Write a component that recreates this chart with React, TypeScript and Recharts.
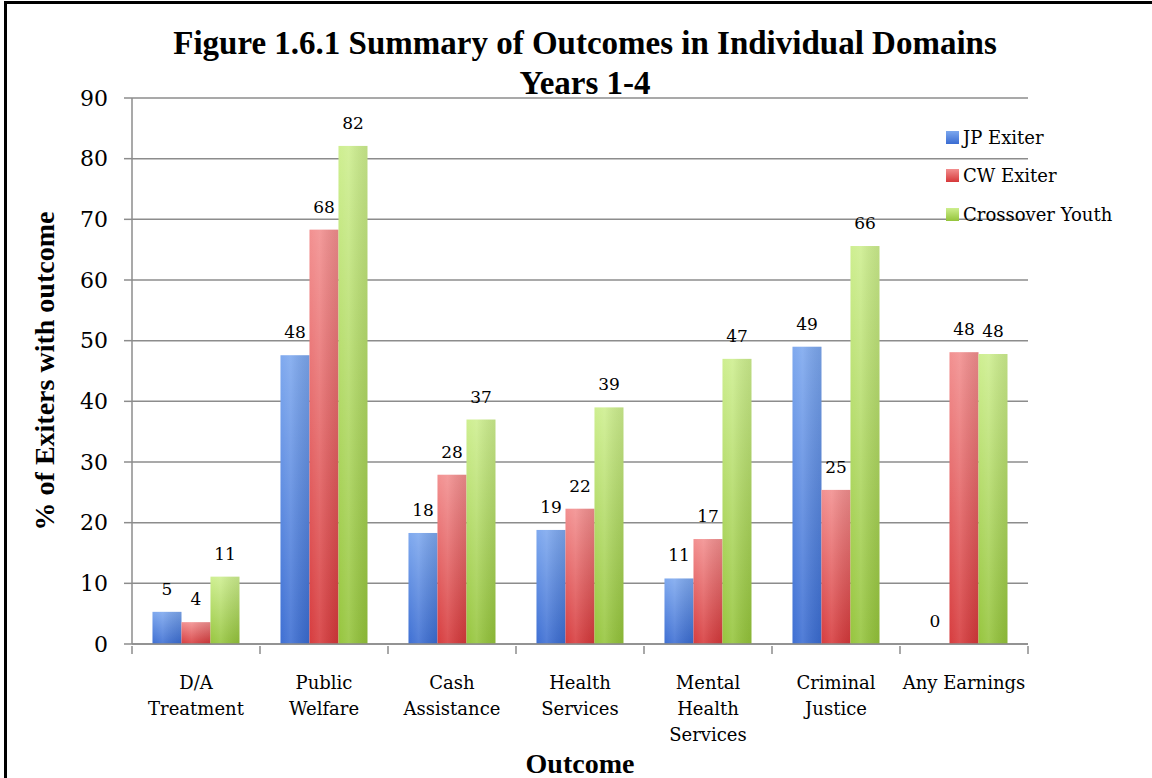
import React from 'react';
import { BarChart, Bar, XAxis, YAxis, CartesianGrid, LabelList } from 'recharts';

const categories = [
  'D/A\nTreatment',
  'Public\nWelfare',
  'Cash\nAssistance',
  'Health\nServices',
  'Mental\nHealth\nServices',
  'Criminal\nJustice',
  'Any Earnings',
];
const jpExiter = [5.3, 47.6, 18.3, 18.8, 10.8, 49.0, 0];
const cwExiter = [3.6, 68.3, 27.9, 22.3, 17.3, 25.4, 48.1];
const crossoverYouth = [11.1, 82.1, 37.0, 39.0, 47.0, 65.6, 47.8];
const seriesNames = ['JP Exiter', 'CW Exiter', 'Crossover Youth'];
const yTicks = [0, 10, 20, 30, 40, 50, 60, 70, 80, 90];

const data = categories.map((c, i) => ({
  outcome: c,
  jp: jpExiter[i],
  cw: cwExiter[i],
  cy: crossoverYouth[i],
}));

const W = 1152;
const H = 778;
const M = { top: 98, right: 124, bottom: 0, left: 0 };
const Y_AXIS_W = 132;
const X_AXIS_H = 134;
const BAND = (W - M.left - M.right - Y_AXIS_W) / categories.length;

const GRID = '#8c8c8c';
const SERIF = '"DejaVu Serif", serif';
const BOLD = '"Liberation Serif", serif';

const palette = [
  { id: 'gBlue', top: '#7ca7ee', bottom: '#3a6cd2' },
  { id: 'gRed', top: '#f28e8e', bottom: '#d6383a' },
  { id: 'gGreen', top: '#cdee8e', bottom: '#94c43a' },
];

function ShadedBar(props: any) {
  const { x, y, width, height, gid } = props;
  if (!height || height <= 0) return null;
  return (
    <g>
      <rect x={x} y={y} width={width} height={height} fill={`url(#${gid})`} />
      <rect x={x} y={y} width={width} height={height} fill="url(#gSide)" />
    </g>
  );
}

function OutcomeTick(props: any) {
  const { x, y, payload, index } = props;
  const lines = String(payload.value).split('\n');
  const half = BAND / 2;
  return (
    <g>
      <line x1={x - half} x2={x - half} y1={y} y2={y + 8} stroke={GRID} strokeWidth={1.5} />
      {index === categories.length - 1 && (
        <line x1={x + half} x2={x + half} y1={y} y2={y + 8} stroke={GRID} strokeWidth={1.5} />
      )}
      <text x={x} y={y + 43} textAnchor="middle" fill="#000" fontSize={18} fontFamily={SERIF}>
        {lines.map((l, i) => (
          <tspan key={i} x={x} dy={i === 0 ? 0 : 26}>
            {l}
          </tspan>
        ))}
      </text>
    </g>
  );
}

const round = (v: any) => Math.round(Number(v));

export default function App() {
  const keys = ['jp', 'cw', 'cy'];
  return (
    <div style={{ position: 'absolute', left: 0, top: 0, width: W, height: H, background: '#fff' }}>
      <div
        style={{
          position: 'absolute',
          left: 4,
          top: 1,
          width: W - 4,
          height: H - 1,
          borderLeft: '3px solid #000',
          borderTop: '3px solid #000',
          boxSizing: 'border-box',
        }}
      />
      <BarChart width={W} height={H} data={data} margin={M} barGap={0} barCategoryGap="16%">
        <defs>
          {palette.map((p) => (
            <linearGradient key={p.id} id={p.id} x1="0" y1="0" x2="0" y2="1">
              <stop offset="0%" stopColor={p.top} />
              <stop offset="100%" stopColor={p.bottom} />
            </linearGradient>
          ))}
          <linearGradient id="gSide" x1="0" y1="0" x2="1" y2="0">
            <stop offset="0%" stopColor="#ffffff" stopOpacity={0.02} />
            <stop offset="35%" stopColor="#ffffff" stopOpacity={0.12} />
            <stop offset="100%" stopColor="#000000" stopOpacity={0.08} />
          </linearGradient>
        </defs>
        <CartesianGrid vertical={false} stroke={GRID} strokeWidth={1.5} />
        <XAxis
          dataKey="outcome"
          height={X_AXIS_H}
          interval={0}
          tickSize={0}
          tickLine={false}
          axisLine={{ stroke: GRID, strokeWidth: 1.5 }}
          tick={<OutcomeTick />}
          label={{
            value: 'Outcome',
            position: 'insideBottom',
            offset: 5,
            style: { fontFamily: BOLD, fontWeight: 700, fontSize: 28, fill: '#000' },
          }}
        />
        <YAxis
          width={Y_AXIS_W}
          domain={[0, 90]}
          ticks={yTicks}
          interval={0}
          tickSize={8}
          tickMargin={16}
          tickLine={{ stroke: GRID, strokeWidth: 1.5 }}
          axisLine={{ stroke: GRID, strokeWidth: 1.5 }}
          tick={{ fill: '#000', fontSize: 22, fontFamily: SERIF }}
          label={{
            value: '% of Exiters with outcome',
            angle: -90,
            position: 'center',
            dx: -22,
            style: { fontFamily: BOLD, fontWeight: 700, fontSize: 28, fill: '#000', textAnchor: 'middle' },
          }}
        />
        {keys.map((k, i) => (
          <Bar
            key={k}
            dataKey={k}
            name={seriesNames[i]}
            fill={palette[i].bottom}
            isAnimationActive={false}
            shape={(p: any) => <ShadedBar {...p} gid={palette[i].id} />}
          >
            <LabelList
              dataKey={k}
              position="top"
              offset={17}
              formatter={round}
              fill="#000"
              fontSize={17}
              fontFamily={SERIF}
            />
          </Bar>
        ))}
      </BarChart>
      <div
        style={{
          position: 'absolute',
          left: 0,
          top: 23,
          width: 1170,
          textAlign: 'center',
          fontFamily: BOLD,
          fontWeight: 700,
          fontSize: 33,
          lineHeight: '40px',
          color: '#000',
        }}
      >
        Figure 1.6.1 Summary of Outcomes in Individual Domains
        <br />
        Years 1-4
      </div>
      <div style={{ position: 'absolute', left: 946, top: 118 }}>
        {seriesNames.map((n, i) => (
          <div key={n} style={{ display: 'flex', alignItems: 'center', height: 38.5 }}>
            <div
              style={{
                width: 13,
                height: 13,
                marginRight: 4,
                background: `linear-gradient(${palette[i].top}, ${palette[i].bottom})`,
              }}
            />
            <span style={{ fontFamily: SERIF, fontSize: 18, color: '#000', whiteSpace: 'nowrap' }}>{n}</span>
          </div>
        ))}
      </div>
    </div>
  );
}
